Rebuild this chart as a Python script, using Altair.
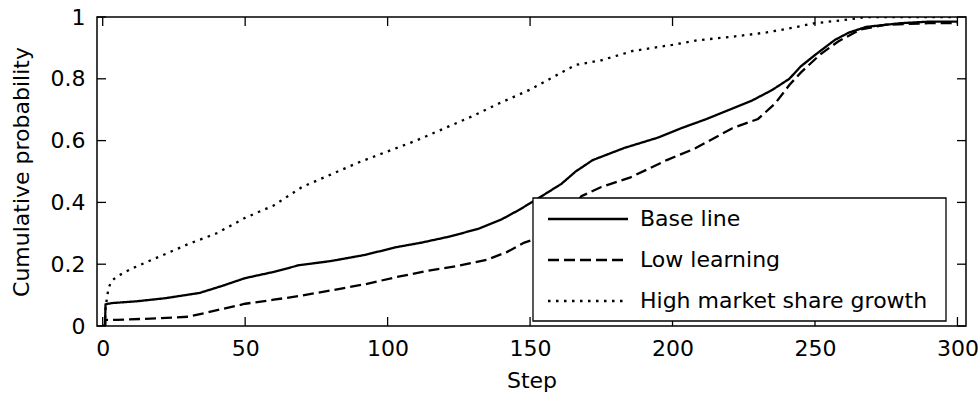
import altair as alt
import pandas as pd

# Cumulative probability curves (step, probability) for each scenario
series_names = ["Base line", "Low learning", "High market share growth"]

base_steps = [0, 0.8, 1, 3, 12, 22, 34, 42, 50, 60, 69, 80, 92, 103, 112, 122, 132, 140, 146,
              153, 161, 166, 172, 183, 195, 203, 212, 220, 228, 235, 241, 245, 250, 257, 262,
              268, 280, 290, 300]
base_vals = [0, 0, 0.07, 0.074, 0.08, 0.09, 0.107, 0.13, 0.155, 0.175, 0.197, 0.21, 0.23, 0.255,
             0.27, 0.29, 0.315, 0.345, 0.375, 0.414, 0.46, 0.5, 0.537, 0.576, 0.61, 0.64, 0.67,
             0.70, 0.73, 0.764, 0.80, 0.84, 0.877, 0.926, 0.95, 0.968, 0.98, 0.985, 0.985]

low_steps = [0, 0.8, 1, 5, 20, 30, 35, 42, 50, 60, 69, 80, 92, 103, 115, 125, 135, 142, 148,
             155, 162, 165, 168, 175, 185, 198, 208, 221, 230, 236, 241, 245, 252, 258, 266,
             275, 290, 300]
low_vals = [0, 0, 0.02, 0.02, 0.025, 0.03, 0.04, 0.055, 0.072, 0.085, 0.097, 0.115, 0.135, 0.158,
            0.18, 0.195, 0.215, 0.24, 0.27, 0.29, 0.31, 0.38, 0.42, 0.45, 0.48, 0.537, 0.575,
            0.64, 0.67, 0.72, 0.78, 0.82, 0.88, 0.92, 0.96, 0.975, 0.98, 0.98]

high_steps = [0.8, 1, 2, 3, 5, 10, 15, 20, 30, 40, 50, 60, 70, 80, 90, 100, 110, 120, 130, 139,
              150, 157, 166, 175, 186, 200, 209, 220, 233, 242, 250, 260, 268, 300]
high_vals = [0, 0.06, 0.12, 0.145, 0.16, 0.185, 0.205, 0.225, 0.265, 0.30, 0.35, 0.39, 0.45,
             0.49, 0.53, 0.565, 0.60, 0.64, 0.68, 0.72, 0.765, 0.80, 0.845, 0.86, 0.89, 0.91,
             0.925, 0.935, 0.95, 0.965, 0.98, 0.99, 1.0, 1.0]

x_ticks = [0, 50, 100, 150, 200, 250, 300]
y_ticks = [0, 0.2, 0.4, 0.6, 0.8, 1]

series_dash = [[1, 0], [11, 5], [2.5, 5.5]]

rows = []
for name, steps, vals in zip(series_names, [base_steps, low_steps, high_steps],
                             [base_vals, low_vals, high_vals]):
    for i, (s, v) in enumerate(zip(steps, vals)):
        rows.append({"series": name, "step": s, "prob": v, "order": i})
df = pd.DataFrame(rows)

W, H = 869, 309
FONT = "DejaVu Sans"
TICK = 9
LW = 2.3

x_scale = alt.Scale(domain=[-2, 303], nice=False, zero=False)
y_scale = alt.Scale(domain=[0, 1], nice=False)

x_axis = alt.Axis(title="Step", values=x_ticks, ticks=False, domain=False,
                  labelPadding=12, labelFlush=False, labelOverlap=False,
                  titlePadding=11, grid=False)
y_axis = alt.Axis(title="Cumulative probability", values=y_ticks, format=".1~f",
                  ticks=False, domain=False, labelPadding=12, labelFlush=False,
                  labelOverlap=False, titlePadding=17, grid=False)

lines = alt.Chart(df).mark_line(color="black", strokeWidth=LW, clip=True).encode(
    x=alt.X("step:Q", scale=x_scale, axis=x_axis),
    y=alt.Y("prob:Q", scale=y_scale, axis=y_axis),
    strokeDash=alt.StrokeDash(
        "series:N", sort=series_names,
        scale=alt.Scale(domain=series_names, range=series_dash),
        legend=None,
    ),
    order="order:Q",
)

# Inward-pointing tick marks on all four sides of the box
xt = pd.DataFrame({"step": x_ticks})
yt = pd.DataFrame({"prob": y_ticks})
tick_style = dict(color="black", strokeWidth=1.3)
bottom_ticks = alt.Chart(xt).mark_rule(**tick_style).encode(
    x=alt.X("step:Q", scale=x_scale, axis=x_axis), y=alt.value(H), y2=alt.value(H - TICK))
top_ticks = alt.Chart(xt).mark_rule(**tick_style).encode(
    x=alt.X("step:Q", scale=x_scale, axis=x_axis), y=alt.value(0), y2=alt.value(TICK))
left_ticks = alt.Chart(yt).mark_rule(**tick_style).encode(
    y=alt.Y("prob:Q", scale=y_scale, axis=y_axis), x=alt.value(0), x2=alt.value(TICK))
right_ticks = alt.Chart(yt).mark_rule(**tick_style).encode(
    y=alt.Y("prob:Q", scale=y_scale, axis=y_axis), x=alt.value(W), x2=alt.value(W - TICK))

# Legend box in the lower right of the plot
LX0, LX1, LY0, LY1 = 436, 849, 181, 304
legend_box = alt.Chart().mark_rect(fill="white", stroke="black", strokeWidth=1.3).encode(
    x=alt.value(LX0), x2=alt.value(LX1), y=alt.value(LY0), y2=alt.value(LY1))

legend_layers = [legend_box]
row_y = [202, 243, 284]
for name, dash, ry in zip(series_names, series_dash, row_y):
    legend_layers.append(
        alt.Chart().mark_rule(color="black", strokeWidth=LW, strokeDash=dash).encode(
            x=alt.value(LX0 + 15), x2=alt.value(LX0 + 95), y=alt.value(ry)))
    legend_layers.append(
        alt.Chart().mark_text(text=name, align="left", baseline="middle", font=FONT,
                              fontSize=22, color="black").encode(
            x=alt.value(LX0 + 107), y=alt.value(ry)))

chart = alt.layer(lines, bottom_ticks, top_ticks, left_ticks, right_ticks,
                  *legend_layers).properties(
    width=W, height=H,
    autosize=alt.AutoSizeParams(type="none"),
    padding={"left": 97, "top": 17, "right": 13, "bottom": 73},
    background="white",
).configure_view(
    stroke="black", strokeWidth=1.5,
).configure_axis(
    labelFont=FONT, labelFontSize=22, labelColor="black",
    titleFont=FONT, titleFontSize=22, titleColor="black", titleFontWeight="normal",
)

chart.save("out.html", embed_options={"renderer": "svg", "actions": False})
